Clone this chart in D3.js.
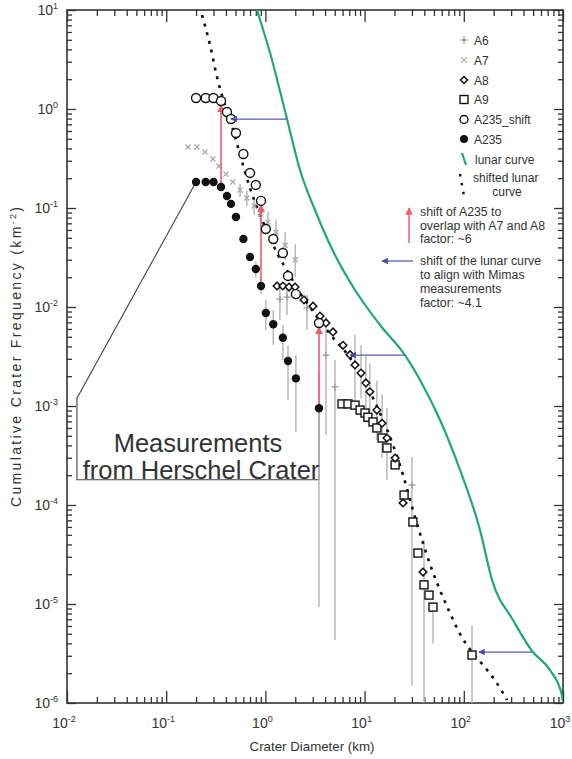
<!DOCTYPE html>
<html><head><meta charset="utf-8">
<script src="https://cdn.jsdelivr.net/npm/d3@7"></script>
<style>body{margin:0;background:#fff}svg{font-family:"Liberation Sans",Arial,sans-serif}</style>
</head><body><svg id="c" width="572" height="759"></svg>
<script>
// ---------- data ----------
const xTickValues = [1e-2, 1e-1, 1e0, 1e1, 1e2, 1e3];
const xTickExp = ["-2", "-1", "0", "1", "2", "3"];
const yTickValues = [1e-6, 1e-5, 1e-4, 1e-3, 1e-2, 1e-1, 1e0, 1e1];
const yTickExp = ["-6", "-5", "-4", "-3", "-2", "-1", "0", "1"];

// A235 (filled circles)
const a235D = [0.20, 0.25, 0.30, 0.357, 0.41, 0.45, 0.505, 0.60, 0.70, 0.80, 0.903, 1.01, 1.20, 1.50, 1.69, 2.03, 3.47];
const a235F = [0.183, 0.183, 0.183, 0.163, 0.132, 0.110, 0.081, 0.0486, 0.032, 0.0242, 0.0163, 0.0087, 0.0067, 0.0049, 0.00285, 0.0019, 0.00095];
const a235Lo = [null, null, null, null, null, null, null, null, null, 0.020, 0.0135, 0.00586, 0.00413, 0.00291, 0.00115, 0.000546, 0.0000093];
const a235Hi = [null, null, null, null, null, null, null, null, null, 0.029, 0.0195, 0.0118, 0.0093, 0.0066, 0.0041, 0.0033, 0.0021];
// A235_shift (open circles)
const a235sF = [1.29, 1.29, 1.29, 1.205, 0.933, 0.792, 0.572, 0.351, 0.226, 0.171, 0.118, 0.0614, 0.0486, 0.0351, 0.0206, 0.0135, 0.0069];
// A7 (light x)
const a7D = [0.166, 0.204, 0.246, 0.296, 0.34, 0.40, 0.47, 0.555, 0.65, 0.77, 0.90, 1.06, 1.28, 1.58, 2.0];
const a7F = [0.413, 0.413, 0.368, 0.313, 0.266, 0.22, 0.183, 0.152, 0.126, 0.105, 0.087, 0.072, 0.057, 0.042, 0.030];
const a7Lo = [null, null, null, null, null, null, null, 0.13, 0.105, 0.085, 0.070, 0.056, 0.043, 0.030, 0.020];
const a7Hi = [null, null, null, null, null, null, null, 0.175, 0.15, 0.128, 0.108, 0.092, 0.075, 0.057, 0.043];
// A6 (grey +)
const a6D = [1.40, 1.65, 2.63, 4.08, 5.03, 30.0];
const a6F = [0.0120, 0.0126, 0.0098, 0.00327, 0.00156, 0.000159];
const a6Lo = [0.0074, 0.0083, 0.0059, 0.00051, 0.0000043, 0.0000015];
const a6Hi = [0.0167, 0.0167, 0.0132, 0.0079, 0.0029, 0.000305];
// A8 (diamonds)
const a8D = [1.31, 1.50, 1.73, 1.99, 2.45, 3.02, 3.55, 4.08, 4.80, 6.06, 7.13, 8.0, 9.2, 10.3, 11.3, 13.3, 15.0, 16.8, 20.3, 24.4, 38.8];
const a8F = [0.0163, 0.0163, 0.0159, 0.0159, 0.0118, 0.0102, 0.0081, 0.0069, 0.0056, 0.0041, 0.0033, 0.0026, 0.00215, 0.00171, 0.00139, 0.00091, 0.00067, 0.000475, 0.000298, 0.000105, 0.000021];
const a8Lo = [null, null, null, null, null, null, null, null, null, null, null, 0.0011, 0.0012, 0.00095, 0.0007, 0.00045, 0.0003, 0.00018, null, null, null];
const a8Hi = [null, null, null, null, null, null, null, null, null, null, null, 0.0052, 0.0041, 0.0032, 0.0027, 0.0018, 0.0013, 0.00095, null, null, null];
// A9 (squares)
const a9D = [5.92, 6.80, 8.0, 9.0, 10.1, 10.8, 12.15, 13.3, 15.0, 16.8, 20.3, 25.0, 30.7, 34.5, 39.7, 44.6, 48.9, 121];
const a9F = [0.00105, 0.00105, 0.00102, 0.00091, 0.00085, 0.00077, 0.00069, 0.0006, 0.000475, 0.000377, 0.000254, 0.000126, 0.0000674, 0.0000327, 0.0000156, 0.0000123, 0.0000093, 0.00000305];
const a9Lo = [null, null, null, null, null, null, null, null, null, null, null, null, null, null, 1e-7, null, 0.000004, 1e-7];
const a9Hi = [null, null, null, null, null, null, null, null, null, null, null, null, null, null, 0.0000443, null, 0.0000093, 0.0000061];
// lunar curve (green)
const lunarD = [0.823, 1.166, 1.651, 2.233, 3.16, 5.03, 8.0, 14.3, 25.5, 36.2, 57.6, 91.6, 145.7, 192.5, 313, 487, 740, 977, 1000];
const lunarF = [10, 3.126, 0.792, 0.242, 0.0955, 0.0335, 0.01485, 0.00658, 0.00327, 0.00183, 0.000722, 0.000226, 0.0000559, 0.0000175, 0.0000069, 0.00000335, 0.00000215, 0.0000012, 0.000001];
// shifted lunar curve (dotted)
const shiftD = [0.2296, 0.2764, 0.3252, 0.3825, 0.4396, 0.505, 0.594, 0.70, 0.842, 1.062, 1.34, 1.69, 2.13, 2.816, 3.806, 5.03, 6.80, 9.64, 12.15, 15.33, 19.33, 24.4, 30.7, 38.8, 47.8, 57.6, 72.6, 91.6, 121, 156, 206, 273];
const shiftF = [8.9, 4.43, 2.105, 1.177, 0.792, 0.486, 0.272, 0.159, 0.0955, 0.0559, 0.0335, 0.02257, 0.01485, 0.01, 0.00658, 0.00464, 0.00327, 0.00183, 0.001205, 0.000722, 0.000404, 0.000201, 0.000089, 0.0000413, 0.0000221, 0.0000138, 0.0000081, 0.00000498, 0.00000327, 0.00000242, 0.0000017, 0.00000107];
// arrows
const redArrowIdx = [3, 10, 16];
const blueArrowF = [0.792, 0.00327, 0.00000327];
const blueArrowFrom = [1.651, 25.5, 487];
const blueArrowTo = [0.45, 7.13, 142];
// callout box (data coords)
const calloutX = [0.0126, 3.47];
const calloutY = [0.0012, 0.00018];

const legendNames = ["A6", "A7", "A8", "A9", "A235_shift", "A235", "lunar curve"];

// ---------- chart ----------
const svg = d3.select("#c");
const L = 67, R = 563, T = 10, B = 703;
const x = d3.scaleLog().domain([1e-2, 1e3]).range([L, R]);
const y = d3.scaleLog().domain([1e-6, 10]).range([B, T]);
const ink = "#333";

const defs = svg.append("defs");
defs.append("clipPath").attr("id", "clip")
  .append("rect").attr("x", L).attr("y", T).attr("width", R - L).attr("height", B - T);
defs.append("marker").attr("id", "redHead").attr("viewBox", "0 0 10 10").attr("refX", 9).attr("refY", 5)
  .attr("markerWidth", 5).attr("markerHeight", 6).attr("orient", "auto")
  .append("path").attr("d", "M0,0L10,5L0,10z").attr("fill", "#e8606a");
defs.append("marker").attr("id", "blueHead").attr("viewBox", "0 0 10 10").attr("refX", 9).attr("refY", 5)
  .attr("markerWidth", 6).attr("markerHeight", 5).attr("orient", "auto")
  .append("path").attr("d", "M0,0L10,5L0,10z").attr("fill", "#4b4ba6");

const isMajor = v => Math.abs(Math.log10(v) - Math.round(Math.log10(v))) < 1e-9;
const xt = x.ticks(50), yt = y.ticks(50);
const xMinor = xt.filter(v => !isMajor(v)), yMinor = yt.filter(v => !isMajor(v));

function ax(gen, tr, vals, size) {
  const g = svg.append("g").attr("transform", tr).call(gen.tickValues(vals).tickSize(size).tickFormat(""));
  g.select(".domain").remove();
  g.selectAll("line").attr("stroke", ink).attr("stroke-width", 1.3);
}
ax(d3.axisBottom(x), `translate(0,${B})`, xMinor, -6);
ax(d3.axisBottom(x), `translate(0,${B})`, xTickValues, -12);
ax(d3.axisTop(x), `translate(0,${T})`, xMinor, -6);
ax(d3.axisTop(x), `translate(0,${T})`, xTickValues, -12);
ax(d3.axisLeft(y), `translate(${L},0)`, yMinor, -5);
ax(d3.axisLeft(y), `translate(${L},0)`, yTickValues, -9);
ax(d3.axisRight(y), `translate(${R},0)`, yMinor, -5);
ax(d3.axisRight(y), `translate(${R},0)`, yTickValues, -9);
svg.append("rect").attr("x", L).attr("y", T).attr("width", R - L).attr("height", B - T)
  .attr("fill", "none").attr("stroke", ink).attr("stroke-width", 1.6);

// tick labels
xTickValues.forEach((v, i) => {
  const t = svg.append("text").attr("x", x(v) - 3).attr("y", 728).attr("text-anchor", "middle")
    .attr("font-size", 14).attr("fill", ink);
  t.append("tspan").text("10");
  t.append("tspan").attr("dy", -6).attr("font-size", 9).text(xTickExp[i]);
});
yTickValues.forEach((v, i) => {
  const t = svg.append("text").attr("x", 58).attr("y", y(v) + 5).attr("text-anchor", "end")
    .attr("font-size", 14).attr("fill", ink);
  t.append("tspan").text("10");
  t.append("tspan").attr("dy", -6).attr("font-size", 9).text(yTickExp[i]);
});

svg.append("text").attr("x", 312).attr("y", 751).attr("text-anchor", "middle").attr("font-size", 13.3)
  .attr("fill", ink).text("Crater Diameter (km)");
const yl = svg.append("text").attr("transform", "translate(21,357) rotate(-90)").attr("text-anchor", "middle")
  .attr("font-size", 14).attr("fill", ink).attr("textLength", 300).attr("lengthAdjust", "spacing");
yl.append("tspan").text("Cumulative Crater Frequency (km");
yl.append("tspan").attr("dy", -5).attr("font-size", 9).text("-2");
yl.append("tspan").attr("dy", 5).text(")");

const plot = svg.append("g").attr("clip-path", "url(#clip)");

// callout box
const p0 = [x(a235D[0]), y(a235F[0])];
plot.append("path").attr("fill", "none").attr("stroke", "#444").attr("stroke-width", 1.1)
  .attr("d", d3.line()([p0, [x(calloutX[0]), y(calloutY[0])], [x(calloutX[0]), y(calloutY[1])],
    [x(calloutX[1]), y(calloutY[1])], [x(calloutX[1]), y(a235F[16])]]));

// error bars
const grey = "#b8b8b8";
function bars(D, Lo, Hi) {
  D.forEach((d, i) => {
    if (Lo[i] == null) return;
    plot.append("line").attr("x1", x(d)).attr("x2", x(d)).attr("y1", y(Lo[i])).attr("y2", y(Hi[i]))
      .attr("stroke", grey).attr("stroke-width", 1.5);
  });
}
bars(a7D, a7Lo, a7Hi);
bars(a235D, a235Lo, a235Hi);
bars(a6D, a6Lo, a6Hi);
bars(a8D, a8Lo, a8Hi);
bars(a9D, a9Lo, a9Hi);

// lunar curve
plot.append("path").attr("fill", "none").attr("stroke", "#1fa878").attr("stroke-width", 2.2)
  .attr("d", d3.line().x(d => x(d[0])).y(d => y(d[1])).curve(d3.curveMonotoneX)(lunarD.map((d, i) => [d, lunarF[i]])));
// shifted lunar
plot.append("path").attr("fill", "none").attr("stroke", "#111").attr("stroke-width", 2.6)
  .attr("stroke-dasharray", "3,6")
  .attr("d", d3.line().x(d => x(d[0])).y(d => y(d[1])).curve(d3.curveMonotoneX)(shiftD.map((d, i) => [d, shiftF[i]])));

// symbols
function plus(g, cx, cy, s, col) {
  g.append("path").attr("d", `M${cx - s},${cy}H${cx + s}M${cx},${cy - s}V${cy + s}`).attr("stroke", col).attr("stroke-width", 1.3);
}
function cross(g, cx, cy, s, col) {
  g.append("path").attr("d", `M${cx - s},${cy - s}L${cx + s},${cy + s}M${cx - s},${cy + s}L${cx + s},${cy - s}`).attr("stroke", col).attr("stroke-width", 1.3);
}
function diamond(g, cx, cy, s) {
  g.append("path").attr("d", `M${cx},${cy - s}L${cx + s},${cy}L${cx},${cy + s}L${cx - s},${cy}Z`).attr("fill", "#fff").attr("stroke", "#111").attr("stroke-width", 1.5);
}
function square(g, cx, cy, s) {
  g.append("rect").attr("x", cx - s).attr("y", cy - s).attr("width", 2 * s).attr("height", 2 * s).attr("fill", "#fff").attr("stroke", "#111").attr("stroke-width", 1.4);
}
function ocirc(g, cx, cy, r) {
  g.append("circle").attr("cx", cx).attr("cy", cy).attr("r", r).attr("fill", "#fff").attr("stroke", "#111").attr("stroke-width", 1.4);
}
function fcirc(g, cx, cy, r) {
  g.append("circle").attr("cx", cx).attr("cy", cy).attr("r", r).attr("fill", "#111");
}
a7D.forEach((d, i) => cross(plot, x(d), y(a7F[i]), 2.5, "#aaa"));
a6D.forEach((d, i) => plus(plot, x(d), y(a6F[i]), 3.5, "#999"));
a9D.forEach((d, i) => square(plot, x(d), y(a9F[i]), 4));
a8D.forEach((d, i) => diamond(plot, x(d), y(a8F[i]), 3.8));

// red arrows
redArrowIdx.forEach(i => {
  plot.append("line").attr("x1", x(a235D[i])).attr("x2", x(a235D[i]))
    .attr("y1", y(a235F[i])).attr("y2", y(a235sF[i]) + 4)
    .attr("stroke", "#e8606a").attr("stroke-width", 1.6).attr("marker-end", "url(#redHead)");
});
a235D.forEach((d, i) => ocirc(plot, x(d), y(a235sF[i]), 4.5));
a235D.forEach((d, i) => fcirc(plot, x(d), y(a235F[i]), 4.2));

// blue arrows
blueArrowF.forEach((f, i) => {
  plot.append("line").attr("x1", x(blueArrowFrom[i])).attr("x2", x(blueArrowTo[i]))
    .attr("y1", y(f)).attr("y2", y(f)).attr("stroke", "#5a5ab0").attr("stroke-width", 1.3)
    .attr("marker-end", "url(#blueHead)");
});

// Herschel text
svg.append("text").attr("x", 198).attr("y", 452).attr("text-anchor", "middle").attr("font-size", 25.5).attr("fill", "#333").text("Measurements");
svg.append("text").attr("x", 201).attr("y", 479).attr("text-anchor", "middle").attr("font-size", 25.5).attr("fill", "#333").text("from Herschel Crater");

// legend
const lg = svg.append("g");
const rows = [40, 60, 80, 99.5, 119.5, 139, 159];
const sx = 464, tx = 474;
plus(lg, sx, rows[0], 3.5, "#999");
cross(lg, sx, rows[1], 3, "#bbb");
diamond(lg, sx, rows[2], 3.5);
square(lg, sx, rows[3], 4);
ocirc(lg, sx, rows[4], 4);
fcirc(lg, sx, rows[5], 4);
lg.append("line").attr("x1", sx - 2).attr("y1", rows[6] - 6).attr("x2", sx + 2).attr("y2", rows[6] + 6).attr("stroke", "#1fa878").attr("stroke-width", 2.2);
legendNames.forEach((n, i) => lg.append("text").attr("x", tx + (i === 6 ? 1 : 0)).attr("y", rows[i] + 4.5).attr("font-size", 12).attr("fill", ink).text(n));
lg.append("path").attr("d", `M${sx - 4},174L${sx},196`).attr("stroke", "#111").attr("stroke-width", 2.4).attr("stroke-dasharray", "2.5,6.5");
lg.append("text").attr("x", 473).attr("y", 182).attr("font-size", 12).attr("fill", ink).text("shifted lunar");
lg.append("text").attr("x", 507).attr("y", 196).attr("text-anchor", "middle").attr("font-size", 12).attr("fill", ink).text("curve");

// annotations
lg.append("line").attr("x1", 409).attr("x2", 409).attr("y1", 243).attr("y2", 208).attr("stroke", "#e8606a").attr("stroke-width", 1.5).attr("marker-end", "url(#redHead)");
["shift of A235 to", "overlap with A7 and A8", "factor: ~6"].forEach((s, i) =>
  lg.append("text").attr("x", 420).attr("y", 216 + i * 13.5).attr("font-size", 12.3).attr("fill", ink).text(s));
lg.append("line").attr("x1", 413).attr("x2", 382).attr("y1", 261).attr("y2", 261).attr("stroke", "#5a5ab0").attr("stroke-width", 1.3).attr("marker-end", "url(#blueHead)");
["shift of the lunar curve", "to align with Mimas", "measurements", "factor: ~4.1"].forEach((s, i) =>
  lg.append("text").attr("x", 420).attr("y", 264.5 + i * 14).attr("font-size", 12.3).attr("fill", ink).text(s));
</script></body></html>
